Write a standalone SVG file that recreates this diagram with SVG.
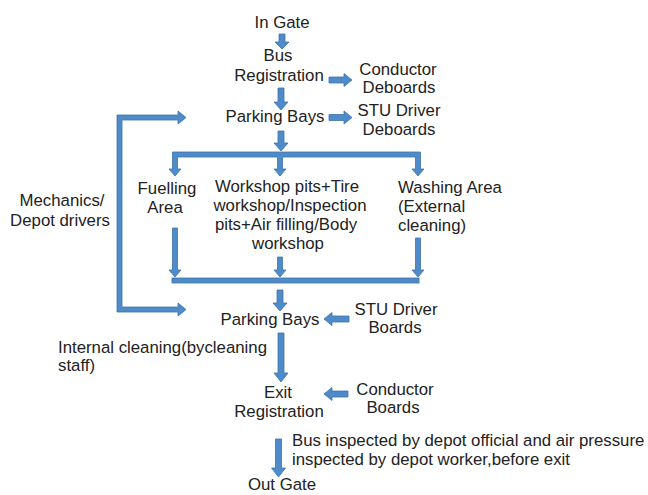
<svg xmlns="http://www.w3.org/2000/svg" width="648" height="495" viewBox="0 0 648 495">
  <style>
    text { font-family: "Liberation Sans", Arial, sans-serif; font-size: 16.8px; fill: #222; }
    .c { text-anchor: middle; }
    .arr { fill: #4f8bc9; stroke: #3d73ab; stroke-width: 0.8; stroke-linejoin: miter; }
  </style>
  <rect width="648" height="495" fill="#fff"/>

  <!-- flow arrows and branch bars -->
  <g id="connectors">
    <!-- main spine -->
    <polygon class="arr" points="279,34 285,34 285,42 289,42 282,49 275,42 279,42"/>
    <polygon class="arr" points="278,88 284,88 284,102 288,102 281,110 274,102 278,102"/>
    <polygon class="arr" points="278,131 284,131 284,143 288,143 281,151 274,143 278,143"/>
    <polygon class="arr" points="277,290 283,290 283,303 287,303 280,311 273,303 277,303"/>
    <polygon class="arr" points="278,333 284,333 284,373 288,373 281,382 274,373 278,373"/>
    <polygon class="arr" points="275.5,439 281.5,439 281.5,468 285.5,468 278.5,477 271.5,468 275.5,468"/>

    <!-- side arrows -->
    <polygon class="arr" points="329,77 344,77 344,73.5 352,80 344,86.5 344,83 329,83"/>
    <polygon class="arr" points="329,114.5 344,114.5 344,111 352,117.5 344,124 344,120.5 329,120.5"/>
    <polygon class="arr" points="349,316 332,316 332,312.5 324,319 332,325.5 332,322 349,322"/>
    <polygon class="arr" points="348,391 332,391 332,387.5 324,394 332,400.5 332,397 348,397"/>

    <!-- split bar into the three service areas -->
    <polygon class="arr" points="172.5,152 420.5,152 420.5,169 424,169 418,176 412,169 415.5,169 415.5,157 282.5,157 282.5,169 286,169 280,176 274,169 277.5,169 277.5,157 177.5,157 177.5,169 181,169 175,176 169,169 172.5,169"/>

    <!-- merge bar after the service areas -->
    <polygon class="arr" points="172.5,228 177.5,228 177.5,270 181,270 175,277 169,270 172.5,270"/>
    <polygon class="arr" points="277.5,257 282.5,257 282.5,270 286,270 280,277 274,270 277.5,270"/>
    <polygon class="arr" points="415.5,238 420.5,238 420.5,270 424,270 418,277 412,270 415.5,270"/>
    <rect class="arr" x="172" y="278" width="247" height="5"/>

    <!-- mechanics / depot drivers loop -->
    <polygon class="arr" points="186,117.5 178,124 178,120 122,120 122,307 178,307 178,303 186,309.5 178,316 178,312 117,312 117,115 178,115 178,111"/>
  </g>

  <g id="in-gate"><text class="c" x="282" y="28">In Gate</text></g>
  <g id="bus-registration">
    <text class="c" x="278" y="61">Bus</text>
    <text class="c" x="279" y="81">Registration</text>
  </g>
  <g id="conductor-deboards">
    <text class="c" x="398" y="75">Conductor</text>
    <text class="c" x="399" y="93">Deboards</text>
  </g>
  <g id="parking-bays-in"><text class="c" x="275" y="122">Parking Bays</text></g>
  <g id="stu-driver-deboards">
    <text class="c" x="399" y="116">STU Driver</text>
    <text class="c" x="399" y="135">Deboards</text>
  </g>
  <g id="mechanics">
    <text class="c" x="62" y="206">Mechanics/</text>
    <text class="c" x="60" y="226">Depot drivers</text>
  </g>
  <g id="fuelling-area">
    <text class="c" x="167" y="194">Fuelling</text>
    <text class="c" x="165" y="213">Area</text>
  </g>
  <g id="workshop">
    <text class="c" x="287" y="192">Workshop pits+Tire</text>
    <text class="c" x="290" y="211">workshop/Inspection</text>
    <text class="c" x="286" y="230">pits+Air filling/Body</text>
    <text class="c" x="288" y="249">workshop</text>
  </g>
  <g id="washing-area">
    <text x="398" y="193">Washing Area</text>
    <text x="398" y="212">(External</text>
    <text x="398" y="231">cleaning)</text>
  </g>
  <g id="parking-bays-out"><text class="c" x="270" y="325">Parking Bays</text></g>
  <g id="stu-driver-boards">
    <text class="c" x="396" y="315">STU Driver</text>
    <text class="c" x="395" y="333">Boards</text>
  </g>
  <g id="internal-cleaning">
    <text x="58" y="353">Internal cleaning(bycleaning</text>
    <text x="58" y="371">staff)</text>
  </g>
  <g id="exit-registration">
    <text class="c" x="278" y="398">Exit</text>
    <text class="c" x="279" y="417">Registration</text>
  </g>
  <g id="conductor-boards">
    <text class="c" x="395" y="395">Conductor</text>
    <text class="c" x="393" y="413">Boards</text>
  </g>
  <g id="exit-inspection">
    <text x="292" y="446">Bus inspected by depot official and air pressure</text>
    <text x="292" y="465">inspected by depot worker,before exit</text>
  </g>
  <g id="out-gate"><text class="c" x="282" y="490">Out Gate</text></g>
</svg>
